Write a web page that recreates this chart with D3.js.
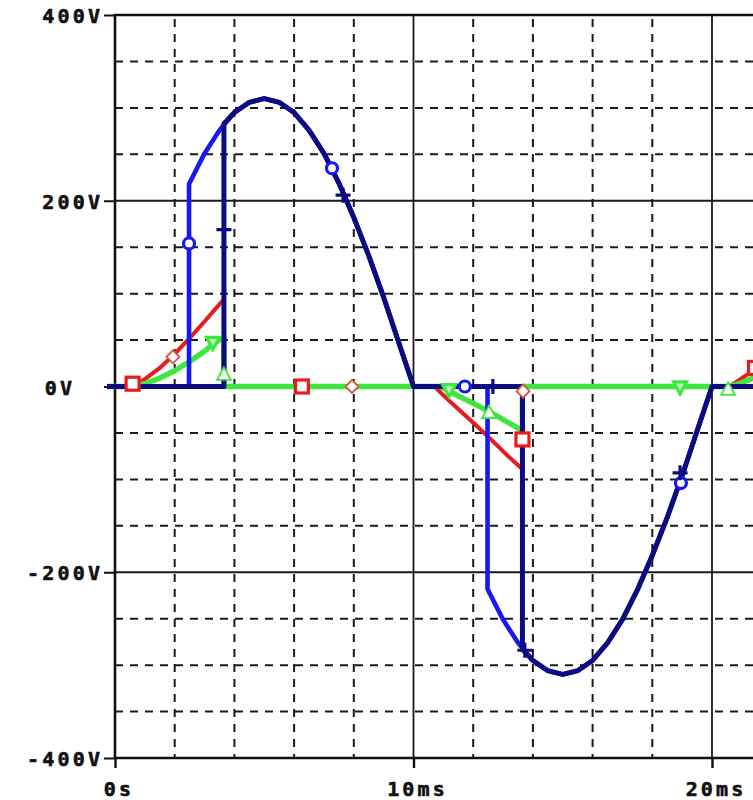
<!DOCTYPE html>
<html>
<head>
<meta charset="utf-8">
<script src="https://cdn.jsdelivr.net/npm/d3@7"></script>
<style>
  html, body { margin: 0; padding: 0; background: #ffffff; }
  svg { display: block; }
</style>
</head>
<body>
<svg id="chart" width="753" height="800"></svg>
<script>
// ---------- data (time in ms, voltage in V) ----------
const xTickValues = [0, 10, 20];
const xTickLabels = ["0s", "10ms", "20ms"];
const yTickValues = [400, 200, 0, -200, -400];
const yTickLabels = ["400V", "200V", "0V", "-200V", "-400V"];
const xGridValues = [2, 4, 6, 8, 10, 12, 14, 16, 18, 20];
const yGridValues = [350, 300, 250, 200, 150, 100, 50, 0, -50, -100, -150, -200, -250, -300, -350];

// navy trace (+ markers), fired at 3.65 ms
const navySeries = [
  [-0.3, 0], [3.65, 0], [3.65, 283], [4.0, 295], [4.5, 306], [5.0, 310], [5.5, 306], [6.0, 295],
  [6.5, 276], [7.0, 251], [7.5, 219], [8.0, 182], [8.5, 141], [9.0, 96], [9.5, 48], [10.0, 0],
  [13.65, 0], [13.65, -283], [14.0, -295], [14.5, -306], [15.0, -310], [15.5, -306], [16.0, -295],
  [16.5, -276], [17.0, -251], [17.5, -219], [18.0, -182], [18.5, -141], [19.0, -96], [19.5, -48],
  [20.0, 0], [21.8, 0]
];
// blue trace (o markers), fired at 2.48 ms
const blueSeries = [
  [-0.3, 0], [2.48, 0], [2.48, 218], [3.0, 251], [3.5, 276], [4.0, 295], [4.5, 306], [5.0, 310],
  [5.5, 306], [6.0, 295], [6.5, 276], [7.0, 251], [7.5, 219], [8.0, 182], [8.5, 141], [9.0, 96],
  [9.5, 48], [10.0, 0], [12.48, 0], [12.48, -218], [13.0, -251], [13.5, -276], [14.0, -295],
  [14.5, -306], [15.0, -310], [15.5, -306], [16.0, -295], [16.5, -276], [17.0, -251], [17.5, -219],
  [18.0, -182], [18.5, -141], [19.0, -96], [19.5, -48], [20.0, 0], [21.8, 0]
];
// red trace (square markers)
const redSeries = [
  [-0.3, 0], [0.6, 0], [1.0, 8], [1.5, 20], [2.0, 35], [2.5, 52], [3.0, 70], [3.35, 83], [3.65, 94],
  [3.65, 0], [10.7, 0], [11.15, -14], [11.8, -33], [12.5, -54], [13.2, -76], [13.65, -89],
  [13.65, 0], [20.6, 0], [21.0, 9], [21.8, 26]
];
// diamond trace (same colour family, fired at 2.48 ms)
const diamondSeries = [
  [-0.3, 0], [0.6, 0], [1.0, 8], [1.5, 20], [2.0, 35], [2.48, 51], [2.48, 0], [10.7, 0],
  [11.15, -14], [11.8, -33], [12.48, -53], [12.48, 0], [20.6, 0], [21.0, 9], [21.8, 26]
];
// green trace (triangle markers)
const greenSeries = [
  [-0.3, 0], [0.6, 0], [1.0, 3], [1.5, 9], [2.0, 17], [2.5, 27], [3.0, 38], [3.3, 46], [3.65, 53],
  [3.65, 0], [10.9, 0], [11.3, -7], [11.8, -15], [12.3, -23], [12.8, -32], [13.3, -41], [13.65, -48],
  [13.65, 0], [20.6, 0], [21.0, 4], [21.8, 15]
];

// marker positions
const squareMarks = [[0.59, 3], [6.26, 0], [13.65, -57], [21.44, 20]];
const diamondMarks = [[1.94, 32], [7.94, 0], [13.67, -5]];
const circleMarks = [[2.48, 154], [7.27, 235], [11.72, 0], [18.96, -104]];
const plusMarks = [[3.65, 169], [7.64, 206], [12.66, 0], [13.73, -284], [18.93, -93]];
const downTriMarks = [[3.28, 47], [11.19, -4], [18.93, -1]];
const upTriMarks = [[3.65, 13], [12.53, -28], [20.54, -3]];

// ---------- drawing ----------
const svg = d3.select("#chart");
const x = d3.scaleLinear().domain([0, 20]).range([115, 712]);
const y = d3.scaleLinear().domain([-400, 400]).range([758, 15]);
const plotRight = 760;

const grid = svg.append("g");
grid.selectAll("line.hg").data(yGridValues).join("line")
  .attr("x1", x(0)).attr("x2", plotRight)
  .attr("y1", d => y(d)).attr("y2", d => y(d))
  .attr("stroke", "#1a1a1a")
  .attr("stroke-width", d => d % 200 === 0 ? 1.8 : 2)
  .attr("stroke-dasharray", d => d % 200 === 0 ? null : "8,7");
grid.selectAll("line.vg").data(xGridValues).join("line")
  .attr("x1", d => x(d)).attr("x2", d => x(d))
  .attr("y1", y(400)).attr("y2", y(-400))
  .attr("stroke", "#1a1a1a")
  .attr("stroke-width", d => d % 10 === 0 ? 1.8 : 2)
  .attr("stroke-dasharray", d => d % 10 === 0 ? null : "8,7")
  .attr("stroke-dashoffset", -4);

// frame
svg.append("line").attr("x1", x(0)).attr("x2", plotRight).attr("y1", y(400)).attr("y2", y(400))
  .attr("stroke", "#111").attr("stroke-width", 2.4);
svg.append("line").attr("x1", x(0)).attr("x2", plotRight).attr("y1", y(-400)).attr("y2", y(-400))
  .attr("stroke", "#111").attr("stroke-width", 2.4);
svg.append("line").attr("x1", x(0)).attr("x2", x(0)).attr("y1", y(400) - 1).attr("y2", y(-400) + 1)
  .attr("stroke", "#111").attr("stroke-width", 2.6);

// axes
const fontFam = "DejaVu Sans Mono, monospace";
const ls = 3.2;
const styleText = sel => sel
  .attr("font-family", fontFam).attr("font-weight", "bold").attr("font-size", 20)
  .attr("letter-spacing", ls).attr("fill", "#111")
  .attr("stroke", "#111").attr("stroke-width", 0.6);

const yAxis = d3.axisLeft(y).tickValues(yTickValues)
  .tickFormat((d, i) => yTickLabels[i]).tickSize(11).tickPadding(4);
const gy = svg.append("g").attr("transform", `translate(${x(0)},0)`).call(yAxis);
gy.select(".domain").remove();
gy.selectAll(".tick line").attr("stroke", "#111").attr("stroke-width", 2);
gy.selectAll(".tick text").call(styleText)
  .attr("x", -15 + ls).attr("dy", "0.38em");
gy.selectAll(".tick").filter(d => d === 0).select("text").attr("x", -43 + ls);

const xAxis = d3.axisBottom(x).tickValues(xTickValues)
  .tickFormat((d, i) => xTickLabels[i]).tickSize(10).tickPadding(4);
const gx = svg.append("g").attr("transform", `translate(0,${y(-400)})`).call(xAxis);
gx.select(".domain").remove();
gx.selectAll(".tick line").attr("stroke", "#111").attr("stroke-width", 2.4);
gx.selectAll(".tick text").call(styleText)
  .attr("x", 2 + ls / 2).attr("y", 38).attr("dy", 0);

// traces
svg.append("clipPath").attr("id", "clip").append("rect")
  .attr("x", x(0) - 8).attr("y", y(400) - 4).attr("width", 700).attr("height", y(-400) - y(400) + 8);
const traces = svg.append("g").attr("clip-path", "url(#clip)");
const line = d3.line().x(d => x(d[0])).y(d => y(d[1]));
const drawTrace = (data, color, w) => traces.append("path").datum(data)
  .attr("d", line).attr("fill", "none").attr("stroke", color).attr("stroke-width", w)
  .attr("stroke-linejoin", "round").attr("stroke-linecap", "round");

const cRed = "#e81c1c", cDiamond = "#d4583c", cGreen = "#3fe63f", cBlue = "#1818f4", cNavy = "#0c0c80";
drawTrace(diamondSeries, cRed, 3);
drawTrace(redSeries, cRed, 4);
drawTrace(greenSeries, cGreen, 5.4);
drawTrace(blueSeries, cBlue, 4.6);
drawTrace(navySeries, cNavy, 5);

// markers
const mk = svg.append("g");
mk.selectAll("rect.sq").data(squareMarks).join("rect")
  .attr("x", d => x(d[0]) - 6.5).attr("y", d => y(d[1]) - 6.5).attr("width", 13).attr("height", 13)
  .attr("fill", "#fff").attr("stroke", cRed).attr("stroke-width", 3.2);
mk.selectAll("path.dm").data(diamondMarks).join("path")
  .attr("d", d => { const cx = x(d[0]), cy = y(d[1]); return `M${cx},${cy - 6.5}L${cx + 6.5},${cy}L${cx},${cy + 6.5}L${cx - 6.5},${cy}Z`; })
  .attr("fill", "#fff").attr("stroke", cDiamond).attr("stroke-width", 1.8);
mk.selectAll("circle.ci").data(circleMarks).join("circle")
  .attr("cx", d => x(d[0])).attr("cy", d => y(d[1])).attr("r", 5.5)
  .attr("fill", "#fff").attr("stroke", cBlue).attr("stroke-width", 3.2);
mk.selectAll("path.pl").data(plusMarks).join("path")
  .attr("d", d => { const cx = x(d[0]), cy = y(d[1]); return `M${cx - 7.5},${cy}H${cx + 7.5}M${cx},${cy - 7.5}V${cy + 7.5}`; })
  .attr("fill", "none").attr("stroke", cNavy).attr("stroke-width", 3.2);
mk.selectAll("path.dt").data(downTriMarks).join("path")
  .attr("d", d => { const cx = x(d[0]), cy = y(d[1]); return `M${cx - 6.5},${cy - 5.5}H${cx + 6.5}L${cx},${cy + 6.5}Z`; })
  .attr("fill", "#b8f5b8").attr("stroke", cGreen).attr("stroke-width", 3.2);
mk.selectAll("path.ut").data(upTriMarks).join("path")
  .attr("d", d => { const cx = x(d[0]), cy = y(d[1]); return `M${cx},${cy - 7}L${cx + 7},${cy + 5.5}H${cx - 7}Z`; })
  .attr("fill", "#fff").attr("stroke", cGreen).attr("stroke-width", 1.8);
</script>
</body>
</html>
